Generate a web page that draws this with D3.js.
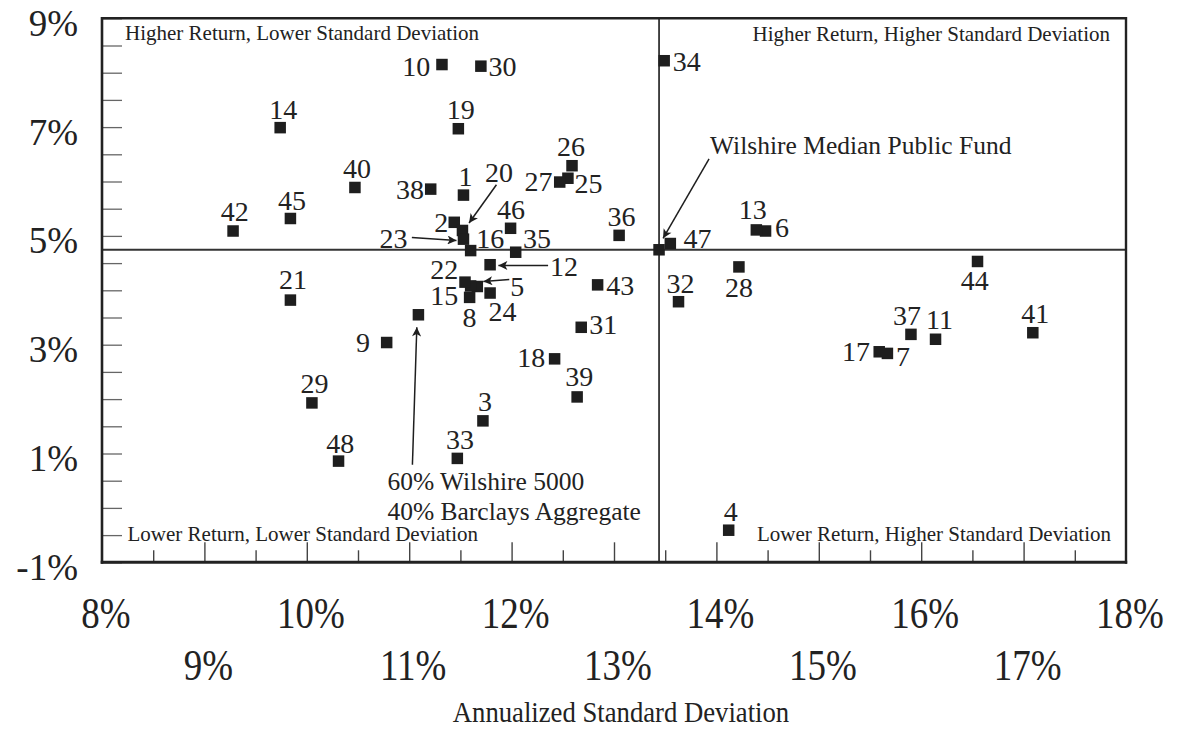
<!DOCTYPE html>
<html><head><meta charset="utf-8">
<script src="https://cdn.jsdelivr.net/npm/d3@7"></script>
<style>
html,body{margin:0;padding:0;background:#fff;}
svg{display:block;font-family:"Liberation Serif","Times New Roman",serif;}
</style></head><body>
<svg id="chart" width="1178" height="732"></svg>
<script>
// ---------------- DATA ----------------
const fundIds = d3.range(1, 49);
const stdDev = [11.53, 11.44, 11.72, 14.12, 11.665, 14.48, 15.67, 11.59, 10.78, 11.32,
                16.14, 11.79, 14.39, 9.74, 11.60, 11.60, 15.59, 12.42, 11.48, 11.52,
                9.84, 11.545, 11.53, 11.79, 12.55, 12.59, 12.47, 14.22, 10.05, 11.70,
                12.68, 13.63, 11.47, 13.49, 12.04, 13.05, 15.90, 11.21, 12.64, 10.47,
                17.09, 9.28, 12.84, 16.55, 9.84, 11.99, 13.55, 10.31];
const returns = [5.75, 5.25, 1.60, -0.41, 4.07, 5.09, 2.84, 3.87, 3.04, 8.15,
                 3.10, 4.47, 5.11, 6.99, 4.08, 4.73, 2.87, 2.74, 6.97, 5.10,
                 3.82, 4.15, 4.94, 3.95, 6.06, 6.29, 5.99, 4.43, 1.93, 8.12,
                 3.32, 3.79, 0.91, 8.22, 4.70, 5.01, 3.19, 5.86, 2.04, 5.89,
                 3.22, 5.09, 4.10, 4.53, 5.32, 5.14, 4.86, 0.86];
const medianName = "Wilshire Median Public Fund";
const medianStd = 13.44, medianRet = 4.745;
const benchLines = ["60% Wilshire 5000", "40% Barclays Aggregate"];
const benchStd = 11.09, benchRet = 3.55;
const yTickValues = d3.range(-1, 9.001, 0.5);
const yLabelValues = [-1, 1, 3, 5, 7, 9];
const xMajorTicks = d3.range(9, 18, 1);
const xMinorTicks = d3.range(8.5, 18, 1);
const xLabelsTop = [8, 10, 12, 14, 16, 18];
const xLabelsBottom = [9, 11, 13, 15, 17];
const quadrantLabels = ["Higher Return, Lower Standard Deviation", "Higher Return, Higher Standard Deviation",
                        "Lower Return, Lower Standard Deviation", "Lower Return, Higher Standard Deviation"];
const xTitle = "Annualized Standard Deviation";

// ---------------- LAYOUT (label placement, styles) ----------------
const T = ["middle", 2, -9.5], L = ["end", -10, 10], R = ["start", 8, 10], B = ["middle", 0, 30];
const labelLayout = {
  1:T, 2:["end",-6,10], 3:T, 4:T, 5:["start",33,9.5], 6:["start",9.5,6], 7:["start",8.7,13],
  8:B, 9:["end",-16.7,9.5], 10:["end",-11.7,11.5], 11:["middle",4,-10], 12:["start",60,11],
  13:["middle",-3.5,-11], 14:["middle",3,-9], 15:["end",-12.4,18.8], 16:["start",5.7,-2.7],
  17:["end",-9.2,9.5], 18:["end",-9.3,8], 19:["middle",2.5,-9.7], 20:["middle",36.5,-48],
  21:["middle",2.5,-10.7], 22:["end",-6.7,-3.5], 23:["end",-56,8.5], 24:["middle",12.5,27.5],
  25:["start",6.7,14.5], 26:["middle",-1,-9.7], 27:["end",-7.3,9], 28:B, 29:["middle",2.7,-10],
  30:["start",7.6,10], 31:["start",8,7], 32:["middle",2,-8.5], 33:["middle",2.7,-9.8],
  34:["start",8.6,10.5], 35:["start",7.3,-4], 36:["middle",2.4,-9.4], 37:["middle",-4,-9.3],
  38:["end",-6.7,10], 39:["middle",2,-10.7], 40:["middle",2,-9.3], 41:["middle",2.5,-9.3],
  42:["middle",1.7,-10], 43:["start",8.7,10], 44:["middle",-2.7,29], 45:["middle",1.7,-8.6],
  46:["middle",0.3,-9], 47:["start",13.3,4.3], 48:["middle",1.7,-8.4]
};
const labelArrows = { 5:[[32,-7],[6,-5]], 12:[[58,0.7],[8.3,0.7]], 20:[[34,-45.7],[6.6,-7.4]], 23:[[-51.6,-1.6],[-7,1.4]] };

const svg = d3.select("#chart");
const x = d3.scaleLinear().domain([8, 18]).range([102, 1126]);
const y = d3.scaleLinear().domain([-1, 9]).range([562.3, 18.3]);
const [X0, X1] = x.range(), [Y0, Y1] = y.range();
const ink = "#1e1e1e";

const defs = svg.append("defs");
defs.append("marker").attr("id", "arr").attr("viewBox", "0 0 10 10")
  .attr("refX", 10).attr("refY", 5).attr("markerWidth", 12).attr("markerHeight", 9)
  .attr("markerUnits", "userSpaceOnUse").attr("orient", "auto")
  .append("path").attr("d", "M0,0 L10,5 L0,10 L2.5,5 z").attr("fill", ink);

// Y axis ticks + labels
const yAxis = d3.axisLeft(y).tickValues(yTickValues).tickSizeInner(-20).tickSizeOuter(0)
  .tickPadding(24).tickFormat(d => yLabelValues.includes(d) ? d + "%" : "");
const ya = svg.append("g").attr("transform", `translate(${X0},0)`).call(yAxis);
ya.select(".domain").remove();
ya.selectAll(".tick line").attr("stroke", "#666").attr("stroke-width", 1.3);
ya.selectAll(".tick text").attr("font-family", "Liberation Serif").attr("font-size", 37)
  .attr("fill", "#222").attr("dy", "0.46em");

// X axis ticks
function xTicks(vals, len) {
  const a = d3.axisBottom(x).tickValues(vals).tickSizeInner(-len).tickSizeOuter(0).tickFormat("");
  const g = svg.append("g").attr("transform", `translate(0,${Y0})`).call(a);
  g.select(".domain").remove();
  g.selectAll(".tick line").attr("stroke", "#444").attr("stroke-width", 1.4);
}
xTicks(xMinorTicks, 12);
xTicks(xMajorTicks, 20);

// X labels (two staggered rows, slightly tall serif)
function xLabelRow(vals, base) {
  svg.append("g").selectAll("text").data(vals).join("text")
    .attr("transform", d => `translate(${x(d) + 4},${base}) scale(1,1.2)`)
    .attr("text-anchor", "middle").attr("font-size", 37).attr("fill", "#222")
    .text(d => d + "%");
}
xLabelRow(xLabelsTop, 628);
xLabelRow(xLabelsBottom, 680);

svg.append("text").attr("transform", "translate(621,722) scale(1,1.1)").attr("text-anchor", "middle")
  .attr("font-size", 26.7).attr("fill", "#222").text(xTitle);

// Median crosshair lines
svg.append("line").attr("x1", x(medianStd)).attr("x2", x(medianStd)).attr("y1", Y1).attr("y2", Y0)
  .attr("stroke", "#333").attr("stroke-width", 1.8);
svg.append("line").attr("x1", X0).attr("x2", X1).attr("y1", y(medianRet)).attr("y2", y(medianRet))
  .attr("stroke", "#333").attr("stroke-width", 1.8);

// Frame
svg.append("line").attr("x1", X0).attr("x2", X1).attr("y1", Y1).attr("y2", Y1).attr("stroke", "#222").attr("stroke-width", 2.4);
svg.append("line").attr("x1", X1).attr("x2", X1).attr("y1", Y1 - 1.2).attr("y2", Y0 + 1.5).attr("stroke", "#222").attr("stroke-width", 2.4);
svg.append("line").attr("x1", X0).attr("x2", X0).attr("y1", Y1 - 1.2).attr("y2", Y0 + 1.5).attr("stroke", "#222").attr("stroke-width", 2.6);
svg.append("line").attr("x1", X0 - 1.3).attr("x2", X1 + 1.2).attr("y1", Y0).attr("y2", Y0).attr("stroke", "#222").attr("stroke-width", 3);

// Quadrant labels
const q = svg.append("g").attr("font-size", 21).attr("fill", "#222");
q.append("text").attr("x", X0 + 23).attr("y", Y1 + 22).text(quadrantLabels[0]);
q.append("text").attr("x", X1 - 16).attr("y", Y1 + 22.5).attr("text-anchor", "end").text(quadrantLabels[1]);
q.append("text").attr("x", X0 + 25.5).attr("y", Y0 - 21).text(quadrantLabels[2]);
q.append("text").attr("x", X1 - 15).attr("y", Y0 - 21).attr("text-anchor", "end").text(quadrantLabels[3]);

// Funds
const funds = fundIds.map((id, i) => ({ id, sd: stdDev[i], r: returns[i] }));
const S = 11.5;
svg.append("g").selectAll("rect").data(funds).join("rect")
  .attr("x", d => x(d.sd) - S / 2).attr("y", d => y(d.r) - S / 2)
  .attr("width", S).attr("height", S).attr("fill", ink);

svg.append("g").selectAll("text").data(funds).join("text")
  .attr("x", d => x(d.sd) + labelLayout[d.id][1])
  .attr("y", d => y(d.r) + labelLayout[d.id][2])
  .attr("text-anchor", d => labelLayout[d.id][0])
  .attr("font-size", 28).attr("fill", "#222").text(d => d.id);

svg.append("g").selectAll("line").data(funds.filter(d => labelArrows[d.id])).join("line")
  .attr("x1", d => x(d.sd) + labelArrows[d.id][0][0]).attr("y1", d => y(d.r) + labelArrows[d.id][0][1])
  .attr("x2", d => x(d.sd) + labelArrows[d.id][1][0]).attr("y2", d => y(d.r) + labelArrows[d.id][1][1])
  .attr("stroke", ink).attr("stroke-width", 1.5).attr("marker-end", "url(#arr)");

// Median public fund
const mx = x(medianStd), my = y(medianRet);
svg.append("rect").attr("x", mx - S / 2).attr("y", my - S / 2).attr("width", S).attr("height", S).attr("fill", ink);
svg.append("text").attr("x", mx + 51).attr("y", my - 96).attr("font-size", 25.5).attr("fill", "#222").text(medianName);
svg.append("line").attr("x1", mx + 50).attr("y1", my - 91).attr("x2", mx + 4).attr("y2", my - 11.5)
  .attr("stroke", ink).attr("stroke-width", 1.5).attr("marker-end", "url(#arr)");

// 60/40 benchmark
const bx = x(benchStd), by = y(benchRet);
svg.append("rect").attr("x", bx - S / 2).attr("y", by - S / 2).attr("width", S).attr("height", S).attr("fill", ink);
svg.append("g").selectAll("text").data(benchLines).join("text")
  .attr("x", bx - 31).attr("y", (d, i) => by + 175 + i * 30)
  .attr("font-size", 25.5).attr("fill", "#222").text(d => d);
svg.append("line").attr("x1", bx - 6).attr("y1", by + 150).attr("x2", bx - 1.6).attr("y2", by + 12.5)
  .attr("stroke", ink).attr("stroke-width", 1.5).attr("marker-end", "url(#arr)");
</script>
</body></html>
